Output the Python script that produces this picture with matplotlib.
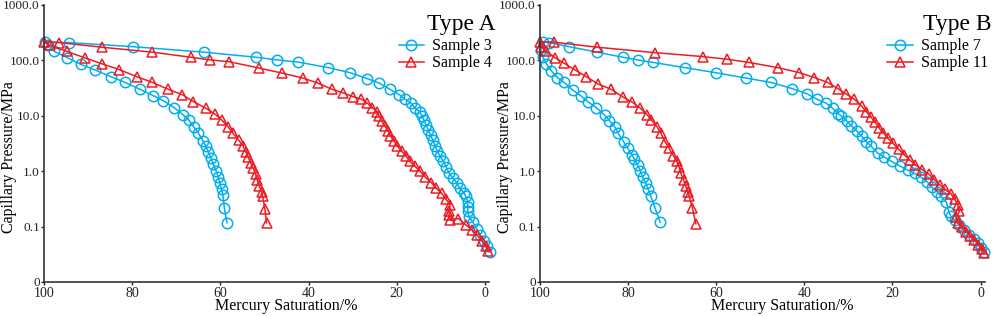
import numpy as np
import matplotlib
matplotlib.use("Agg")
import matplotlib.pyplot as plt

plt.rcParams['font.family'] = ['Liberation Serif', 'DejaVu Serif']

# --- Type A ---
# Sample 3: injection (low -> high pressure) then withdrawal
s3_inj_sat = [-1.1, -0.4, 0.2, 1.0, 1.8, 2.7, 3.6, 3.9, 3.9, 3.9, 4.3, 4.8, 5.7, 6.4, 7.3, 8.1,
              8.8, 9.4, 10.2, 10.8, 11.3, 11.8, 12.3, 12.8, 13.3, 13.8, 14.3, 14.8, 15.9, 16.8,
              18.1, 19.4, 21.5, 24.0, 26.7, 30.6, 35.5, 42.3, 47.1, 51.9, 63.8, 79.9, 94.3, 99.8]
s3_inj_pc = [0.035, 0.044, 0.056, 0.07, 0.09, 0.12, 0.15, 0.19, 0.23, 0.28, 0.35, 0.41, 0.49, 0.62,
             0.76, 0.93, 1.2, 1.5, 1.9, 2.3, 2.9, 3.6, 4.5, 5.5, 6.7, 8.3, 10, 11.8, 14, 17, 20, 24,
             30, 39, 47, 60, 74, 93, 102, 114, 141, 177, 210, 215]
s3_ext_sat = [99.0, 97.7, 94.7, 91.7, 88.4, 84.9, 81.6, 78.2, 75.2, 72.9, 70.5, 68.4, 67.1, 66.0,
              65.0, 63.9, 63.3, 62.7, 62.1, 61.6, 61.0, 60.5, 60.1, 59.7, 59.4, 59.1, 58.5]
s3_ext_pc = [190, 146, 112, 85, 67, 51, 40, 30, 23, 18.7, 14.1, 10.3, 8.3, 6.3, 4.9, 3.5, 2.8, 2.2,
             1.7, 1.35, 1.02, 0.8, 0.6, 0.47, 0.37, 0.22, 0.117]

# Sample 4
s4_inj_sat = [-0.8, -0.2, 0.7, 1.8, 2.9, 4.3, 6.0, 7.8, 8.1, 8.1, 7.9, 8.8, 9.8, 11.0, 12.1, 13.6,
              14.7, 15.9, 17.0, 17.9, 18.9, 19.9, 20.6, 21.4, 21.9, 22.7, 23.4, 24.0, 24.4, 25.5,
              26.7, 28.0, 29.8, 32.2, 34.6, 37.9, 41.3, 46.0, 51.3, 58.1, 62.3, 66.7, 75.5, 86.9,
              96.7, 100.0]
s4_inj_pc = [0.036, 0.044, 0.056, 0.07, 0.087, 0.107, 0.14, 0.13, 0.16, 0.19, 0.25, 0.31, 0.40, 0.49,
             0.62, 0.79, 1.0, 1.23, 1.5, 1.9, 2.3, 2.9, 3.5, 4.3, 5.3, 6.6, 8.1, 10, 11.8, 14, 17,
             20, 22, 26, 30, 39, 48, 59, 73, 95, 102, 114, 141, 173, 210, 215]
s4_ext_sat = [98.6, 94.9, 90.6, 86.9, 82.9, 79.0, 75.4, 71.8, 68.6, 66.1, 63.3, 61.2, 59.7, 58.2,
              57.1, 55.8, 54.8, 54.2, 53.7, 53.1, 52.5, 52.0, 51.6, 51.2, 50.6, 50.4, 49.9, 49.5]
s4_ext_pc = [186, 146, 110, 87, 68, 51, 40, 30, 24, 18, 13.7, 10.7, 8.4, 6.3, 4.8, 3.6, 2.8, 2.2,
             1.8, 1.4, 1.12, 0.88, 0.69, 0.54, 0.43, 0.35, 0.21, 0.117]

# --- Type B ---
# Sample 7
s7_inj_sat = [-0.8, -0.1, 0.7, 1.6, 2.6, 3.7, 4.8, 5.9, 6.8, 7.2, 7.8, 9.0, 9.9, 11.1, 12.1, 13.5,
              15.0, 16.5, 18.4, 20.2, 21.9, 23.3, 24.8, 25.9, 27.0, 28.1, 29.3, 30.4, 31.7, 32.3,
              33.6, 35.1, 37.2, 39.4, 42.8, 47.5, 53.3, 60.1, 67.1, 74.3, 77.8, 81.2, 87.0, 93.4,
              98.0, 99.3]
s7_inj_pc = [0.035, 0.041, 0.05, 0.059, 0.071, 0.087, 0.107, 0.131, 0.155, 0.186, 0.28, 0.35, 0.43,
             0.52, 0.64, 0.78, 0.91, 1.04, 1.25, 1.5, 1.8, 2.1, 2.8, 3.4, 4.3, 5.3, 6.6, 8.1, 10, 11,
             13.7, 17, 20, 25, 31, 40, 48, 60, 74, 92, 102, 114, 141, 177, 210, 217]
s7_ext_sat = [99.8, 99.3, 98.5, 97.4, 96.0, 94.5, 92.5, 90.7, 89.1, 87.2, 85.3, 84.2, 82.9, 82.2,
              81.0, 80.1, 79.1, 78.6, 77.8, 77.2, 76.7, 75.9, 75.4, 74.8, 73.9, 72.7]
s7_ext_pc = [155, 114, 87, 65, 49, 40, 29, 23, 18, 14, 10.3, 8.2, 6.2, 4.8, 3.4, 2.6, 2.0, 1.66,
             1.29, 1.02, 0.78, 0.6, 0.47, 0.35, 0.22, 0.12]

# Sample 11
s11_inj_sat = [-0.8, -0.2, 0.5, 1.4, 2.3, 3.3, 4.3, 5.2, 5.6, 4.8, 5.2, 5.9, 6.7, 8.1, 9.3, 10.5,
               11.8, 13.3, 14.8, 16.1, 17.4, 18.6, 19.9, 21.0, 22.1, 23.1, 24.0, 24.9, 25.9, 27.0,
               28.7, 30.6, 32.4, 34.7, 37.7, 41.1, 46.0, 52.6, 57.5, 63.0, 73.9, 87.0, 96.8, 100.0]
s11_inj_pc = [0.034, 0.039, 0.047, 0.058, 0.068, 0.081, 0.1, 0.117, 0.147, 0.19, 0.25, 0.31, 0.39,
              0.47, 0.57, 0.7, 0.89, 1.07, 1.3, 1.6, 2.0, 2.5, 3.2, 3.9, 4.9, 6.1, 7.8, 9.5, 11.7,
              15, 20, 25, 31, 40, 49, 60, 74, 92, 105, 117, 138, 173, 213, 217]
s11_ext_sat = [99.8, 98.5, 96.6, 94.5, 92.1, 89.5, 86.8, 83.8, 81.2, 79.2, 77.2, 75.6, 74.7, 73.4,
               72.5, 71.6, 70.7, 69.7, 68.9, 68.4, 68.0, 67.4, 66.9, 66.5, 66.1, 65.4, 64.6]
s11_ext_pc = [177, 146, 112, 89, 68, 51, 37.5, 30, 22, 18, 13.7, 10.3, 8.4, 6.3, 4.8, 3.4, 2.6, 1.9,
              1.5, 1.2, 0.91, 0.7, 0.53, 0.43, 0.35, 0.22, 0.112]

panels = [
    ("Type A", [("Sample 3", s3_inj_sat, s3_inj_pc, s3_ext_sat, s3_ext_pc, 'o'),
                ("Sample 4", s4_inj_sat, s4_inj_pc, s4_ext_sat, s4_ext_pc, '^')]),
    ("Type B", [("Sample 7", s7_inj_sat, s7_inj_pc, s7_ext_sat, s7_ext_pc, 'o'),
                ("Sample 11", s11_inj_sat, s11_inj_pc, s11_ext_sat, s11_ext_pc, '^')]),
]
colors = {'o': '#00AEEF', '^': '#ED1C24'}

yticks = [0.01, 0.1, 1, 10, 100, 1000]
ylabels = ["0", "0.1", "1.0", "10.0", "100.0", "1000.0"]
xticks = [100, 80, 60, 40, 20, 0]

fig = plt.figure(figsize=(9.96, 3.16), dpi=100)
lefts = [0.0442, 0.542]
for (title, samples), left in zip(panels, lefts):
    ax = fig.add_axes([left, 0.1076, 0.447, 0.8766])
    for name, isat, ipc, esat, epc, mk in samples:
        sat = list(isat) + list(esat)
        pc = list(ipc) + list(epc)
        ax.plot(sat, pc, color=colors[mk], marker=mk, markersize=7.5,
                markerfacecolor='none', markeredgewidth=1.1, linewidth=1.1, label=name,
                clip_on=False)
    ax.set_yscale('log')
    ax.set_ylim(0.01, 1000)
    ax.set_xlim(100, -1)
    ax.set_yticks(yticks)
    ax.set_yticklabels(ylabels)
    ax.yaxis.set_minor_locator(matplotlib.ticker.NullLocator())
    ax.set_xticks(xticks)
    ax.tick_params(axis='y', labelsize=9.5, length=2.5, width=1, colors='#222222', pad=0.5)
    ax.tick_params(axis='x', labelsize=10, length=2.5, width=1, colors='#222222', pad=1)
    for s in ['top', 'right']:
        ax.spines[s].set_visible(False)
    for s in ['left', 'bottom']:
        ax.spines[s].set_linewidth(1.2)
        ax.spines[s].set_color('#333333')
    ax.set_ylabel("Capillary Pressure/MPa", fontsize=11.5, va='center')
    ax.yaxis.set_label_coords(-0.079, 0.45)
    ax.set_xlabel("Mercury Saturation/%", fontsize=11.5)
    ax.xaxis.set_label_coords(0.544, -0.088)
    ax.xaxis.label.set_va('center')
    ax.text(1.015, 0.93, title, transform=ax.transAxes, ha='right', va='center', fontsize=17)
    ax.legend(loc='upper right', bbox_to_anchor=(1.01, 0.885), frameon=False, fontsize=11.5,
              handlelength=1.6, handletextpad=0.5, labelspacing=0.05, borderpad=0.1,
              borderaxespad=0)

fig.savefig("out.png", dpi=100)
